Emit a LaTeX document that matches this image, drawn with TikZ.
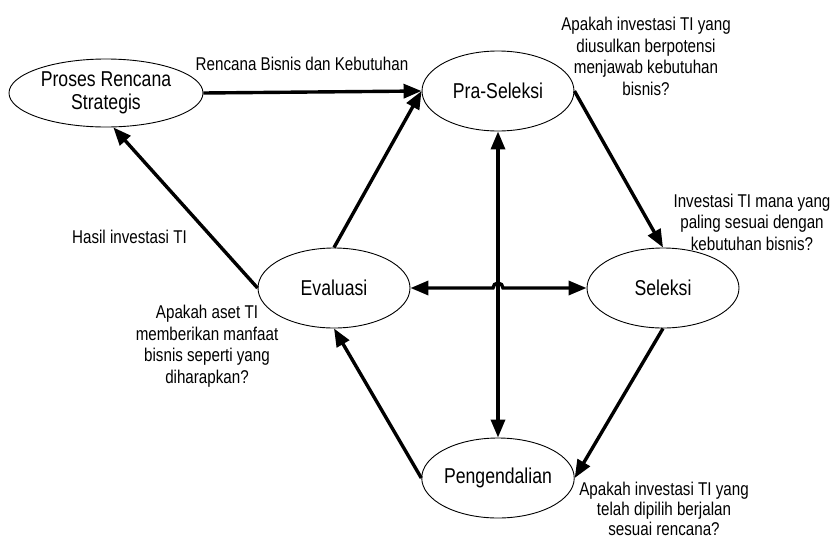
\documentclass[tikz,border=0pt]{standalone}
\usepackage{fontspec}
\setmainfont{Liberation Sans}[FakeStretch=0.82]
\usetikzlibrary{shapes.geometric,arrows.meta}
\begin{document}
\begin{tikzpicture}[x=1pt,y=1pt,
  state/.style={draw, ellipse, line width=0.9pt, inner sep=0pt, minimum width=152pt, minimum height=80pt, font=\fontsize{21.5}{23}\selectfont, align=center},
  flow/.style={line width=3.4pt, -{Triangle[length=18pt,width=14pt]}},
  both/.style={line width=3.4pt, {Triangle[length=18pt,width=14pt]}-{Triangle[length=18pt,width=14pt]}},
  lbl/.style={font=\fontsize{18.5}{21.5}\selectfont, align=center, inner sep=0pt}]
\useasboundingbox (0,0) rectangle (834,-538);
\node[state, minimum width=194pt, minimum height=68pt] (proses) at (106,-93) {Proses Rencana\\Strategis};
\node[state] (pra) at (498,-91) {Pra-Seleksi};
\node[state] (eval) at (334,-288) {Evaluasi};
\node[state] (sel) at (663,-288) {Seleksi};
\node[state] (peng) at (498,-478) {Pengendalian};

\node[lbl] (l1) at (302,-64) {Rencana Bisnis dan Kebutuhan};
\node[lbl, anchor=east] (l2) at (187,-237) {Hasil investasi TI};
\node[lbl] (q1) at (646,-56.5) {Apakah investasi TI yang\\diusulkan berpotensi\\menjawab kebutuhan\\bisnis?};
\node[lbl] (q2) at (752,-222) {Investasi TI mana yang\\paling sesuai dengan\\kebutuhan bisnis?};
\node[lbl] (q3) at (207,-346) {Apakah aset TI\\memberikan manfaat\\bisnis seperti yang\\diharapkan?};
\node[lbl, font=\fontsize{18.5}{20}\selectfont] (q4) at (664,-508.5) {Apakah investasi TI yang\\telah dipilih berjalan\\sesuai rencana?};

\draw[flow] (proses.east) -- (pra.west);
\draw[flow] (eval.north) -- (pra.west);
\draw[flow] (eval.west) -- (proses.-78);
\draw[flow] (pra.east) -- (sel.north);
\draw[flow] (sel.south) -- (peng.east);
\draw[flow] (peng.west) -- (eval.south);
\draw[both] (pra.south) -- (peng.north);
\coordinate (hopL) at (493,-288);
\draw[both] (eval.east) -- (hopL) arc[start angle=180, end angle=0, radius=5pt] -- (sel.west);
\end{tikzpicture}
\end{document}
